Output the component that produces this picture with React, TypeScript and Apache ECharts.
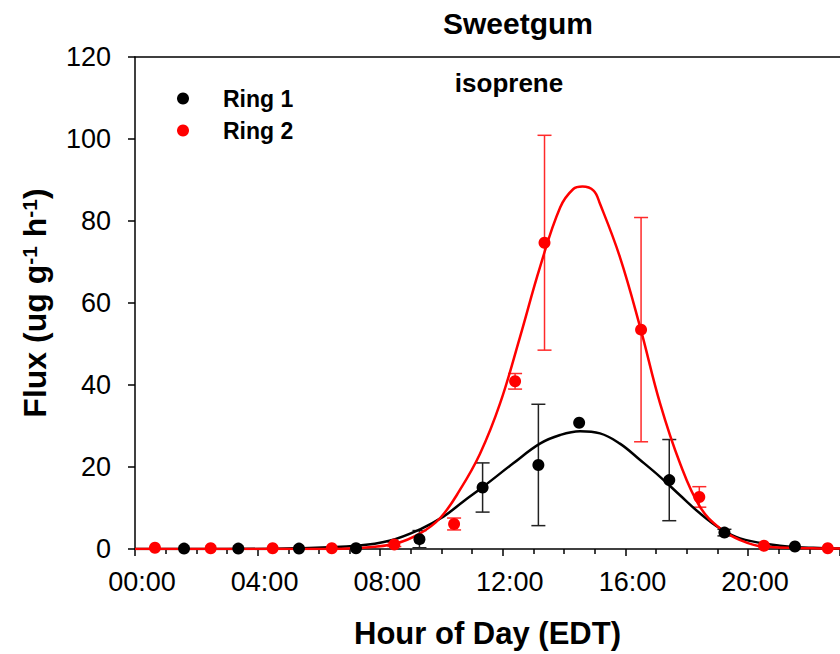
import React, { useEffect, useRef } from "react";
import * as echarts from "echarts";

// Ring 1 (black) observations
const hours1 = [1.6, 3.37, 5.35, 7.21, 9.28, 11.34, 13.16, 14.49, 17.43, 19.23, 21.53];
const ring1 = [0.1, 0.1, 0.1, 0.2, 2.4, 15.0, 20.5, 30.8, 16.8, 4.0, 0.6];
const ring1Err = [0, 0, 0, 0, 2.1, 6.0, 14.8, 0, 9.9, 0.8, 0];

// Ring 2 (red) observations
const hours2 = [0.65, 2.47, 4.49, 6.42, 8.46, 10.41, 12.4, 13.36, 16.51, 18.41, 20.52, 22.6];
const ring2 = [0.3, 0.2, 0.2, 0.2, 1.1, 6.1, 40.9, 74.7, 53.5, 12.7, 0.8, 0.2];
const ring2Err = [0, 0, 0, 0, 0.5, 1.45, 1.9, 26.2, 27.35, 2.5, 0, 0];

// Fitted curves
const fitHours1 = [0, 3, 5.27, 7.23, 8.3, 9.3, 10.06, 10.71, 11.36, 12.34, 13.21, 13.87, 14.52, 15.17, 15.82, 16.48, 17.13, 17.78, 18.43, 19.09, 19.74, 21.04, 22.13, 23];
const fit1 = [0, 0, 0.2, 0.8, 2.0, 4.8, 7.9, 11.6, 15.2, 20.9, 25.7, 27.8, 28.7, 28.2, 25.7, 21.7, 17.6, 13.1, 8.7, 5.0, 2.6, 0.8, 0.3, 0.1];

const fitHours2 = [0, 6, 7.45, 8.54, 9.3, 9.95, 10.6, 11.26, 11.91, 12.56, 13.21, 13.87, 14.3, 14.6, 14.96, 15.17, 15.82, 16.48, 17.13, 17.78, 18.43, 19.09, 19.74, 20.5, 22.1, 23];
const fit2 = [0, 0, 0.3, 1.4, 3.8, 7.5, 14.4, 23.3, 35.5, 51.7, 68.7, 83.3, 87.8, 88.4, 87.4, 84.2, 71.2, 54.1, 35.5, 20.9, 10.3, 5.0, 2.2, 0.6, 0.2, 0.1];

const yTicks = [0, 20, 40, 60, 80, 100, 120];
const FONT = "'Liberation Sans', Arial, sans-serif";

function errData(h: number[], v: number[], e: number[]) {
  const out: number[][] = [];
  h.forEach((x, i) => {
    if (e[i] > 0) out.push([x, v[i] - e[i], v[i] + e[i]]);
  });
  return out;
}

function errSeries(data: number[][], color: string) {
  return {
    type: "custom",
    data,
    encode: { x: 0, y: [1, 2] },
    z: 1,
    silent: true,
    renderItem: (params: any, api: any) => {
      const x = api.value(0);
      const pLo = api.coord([x, api.value(1)]);
      const pHi = api.coord([x, api.value(2)]);
      const w = 7;
      const style = { stroke: color, lineWidth: 1.5 };
      return {
        type: "group",
        children: [
          { type: "line", shape: { x1: pHi[0], y1: pHi[1], x2: pLo[0], y2: pLo[1] }, style },
          { type: "line", shape: { x1: pHi[0] - w, y1: pHi[1], x2: pHi[0] + w, y2: pHi[1] }, style },
          { type: "line", shape: { x1: pLo[0] - w, y1: pLo[1], x2: pLo[0] + w, y2: pLo[1] }, style },
        ],
      };
    },
  };
}

export default function App() {
  const ref = useRef<HTMLDivElement>(null);
  useEffect(() => {
    if (!ref.current) return;
    const chart = echarts.init(ref.current, null, { renderer: "svg" });
    const pad = (n: number) => (n < 10 ? "0" + n : "" + n);
    chart.setOption({
      animation: false,
      backgroundColor: "#fff",
      title: {
        text: "Sweetgum",
        left: 443,
        top: 8,
        padding: 0,
        textStyle: { fontSize: 30, fontWeight: "bold", fontFamily: FONT, color: "#000" },
      },
      legend: {
        data: ["Ring 1", "Ring 2"],
        orient: "vertical",
        left: 177,
        top: 87,
        padding: 0,
        itemGap: 9,
        itemWidth: 12,
        itemHeight: 12,
        icon: "circle",
        textStyle: {
          fontSize: 23,
          fontWeight: "bold",
          fontFamily: FONT,
          color: "#000",
          lineHeight: 21,
          padding: [0, 0, 0, 29],
        },
      },
      graphic: [
        {
          type: "text",
          x: 509,
          y: 83,
          style: {
            text: "isoprene",
            textAlign: "center",
            textVerticalAlign: "middle",
            fontSize: 26,
            fontWeight: "bold",
            fontFamily: FONT,
            fill: "#000",
          },
        },
      ],
      grid: { left: 135, right: 0, top: 57, bottom: 105, containLabel: false },
      xAxis: [
        {
          type: "value",
          min: 0,
          max: 23,
          interval: 4,
          position: "bottom",
          name: "Hour of Day (EDT)",
          nameLocation: "middle",
          nameGap: 69,
          nameTextStyle: { fontSize: 31, fontWeight: "bold", fontFamily: FONT, color: "#000" },
          axisLine: { show: true, onZero: false, lineStyle: { color: "#000", width: 1.5 } },
          axisTick: { show: true, inside: false, length: 7, lineStyle: { color: "#000", width: 1.5 } },
          minorTick: { show: true, splitNumber: 4, length: 5, lineStyle: { color: "#000", width: 1.5 } },
          splitLine: { show: false },
          axisLabel: {
            fontSize: 27,
            fontFamily: FONT,
            color: "#000",
            margin: 19,
            padding: [0, 0, 0, 14],
            showMaxLabel: false,
            formatter: (v: number) => pad(v) + ":00",
          },
        },
        {
          type: "value",
          min: 0,
          max: 23,
          position: "top",
          axisLine: { show: true, onZero: false, lineStyle: { color: "#000", width: 1.5 } },
          axisTick: { show: false },
          axisLabel: { show: false },
          splitLine: { show: false },
        },
      ],
      yAxis: {
        type: "value",
        min: 0,
        max: 120,
        interval: 20,
        name: "{b|Flux (ug g}{s|-1}{b| h}{s|-1}{b|)}",
        nameLocation: "middle",
        nameRotate: 90,
        nameGap: 84,
        nameTextStyle: {
          fontFamily: FONT,
          color: "#000",
          rich: {
            b: { fontSize: 32, fontWeight: "bold", fontFamily: FONT, color: "#000" },
            s: { fontSize: 21, fontWeight: "bold", fontFamily: FONT, color: "#000", verticalAlign: "top" },
          },
        },
        axisLine: { show: true, onZero: false, lineStyle: { color: "#000", width: 1.5 } },
        axisTick: { show: true, inside: false, length: 7, lineStyle: { color: "#000", width: 1.5 } },
        splitLine: { show: false },
        axisLabel: {
          fontSize: 27,
          fontFamily: FONT,
          color: "#000",
          margin: 24,
          formatter: (v: number) => (yTicks.includes(v) ? String(v) : ""),
        },
      },
      series: [
        errSeries(errData(hours1, ring1, ring1Err), "#222"),
        errSeries(errData(hours2, ring2, ring2Err), "#ff2a2a"),
        {
          type: "line",
          data: fitHours1.map((h, i) => [h, fit1[i]]),
          showSymbol: false,
          smooth: 0.4,
          lineStyle: { color: "#000", width: 2.5 },
          z: 2,
          silent: true,
        },
        {
          type: "line",
          data: fitHours2.map((h, i) => [h, fit2[i]]),
          showSymbol: false,
          smooth: 0.4,
          lineStyle: { color: "#ff0000", width: 2.5 },
          z: 2,
          silent: true,
        },
        {
          name: "Ring 1",
          type: "scatter",
          data: hours1.map((h, i) => [h, ring1[i]]),
          symbol: "circle",
          symbolSize: 12,
          itemStyle: { color: "#000", opacity: 1 },
          z: 3,
        },
        {
          name: "Ring 2",
          type: "scatter",
          data: hours2.map((h, i) => [h, ring2[i]]),
          symbol: "circle",
          symbolSize: 12,
          itemStyle: { color: "#ff0000", opacity: 1 },
          z: 3,
        },
      ],
    });
    return () => chart.dispose();
  }, []);
  return (
    <div
      ref={ref}
      style={{ position: "fixed", left: 0, top: 0, width: 840, height: 654, background: "#fff" }}
    />
  );
}
